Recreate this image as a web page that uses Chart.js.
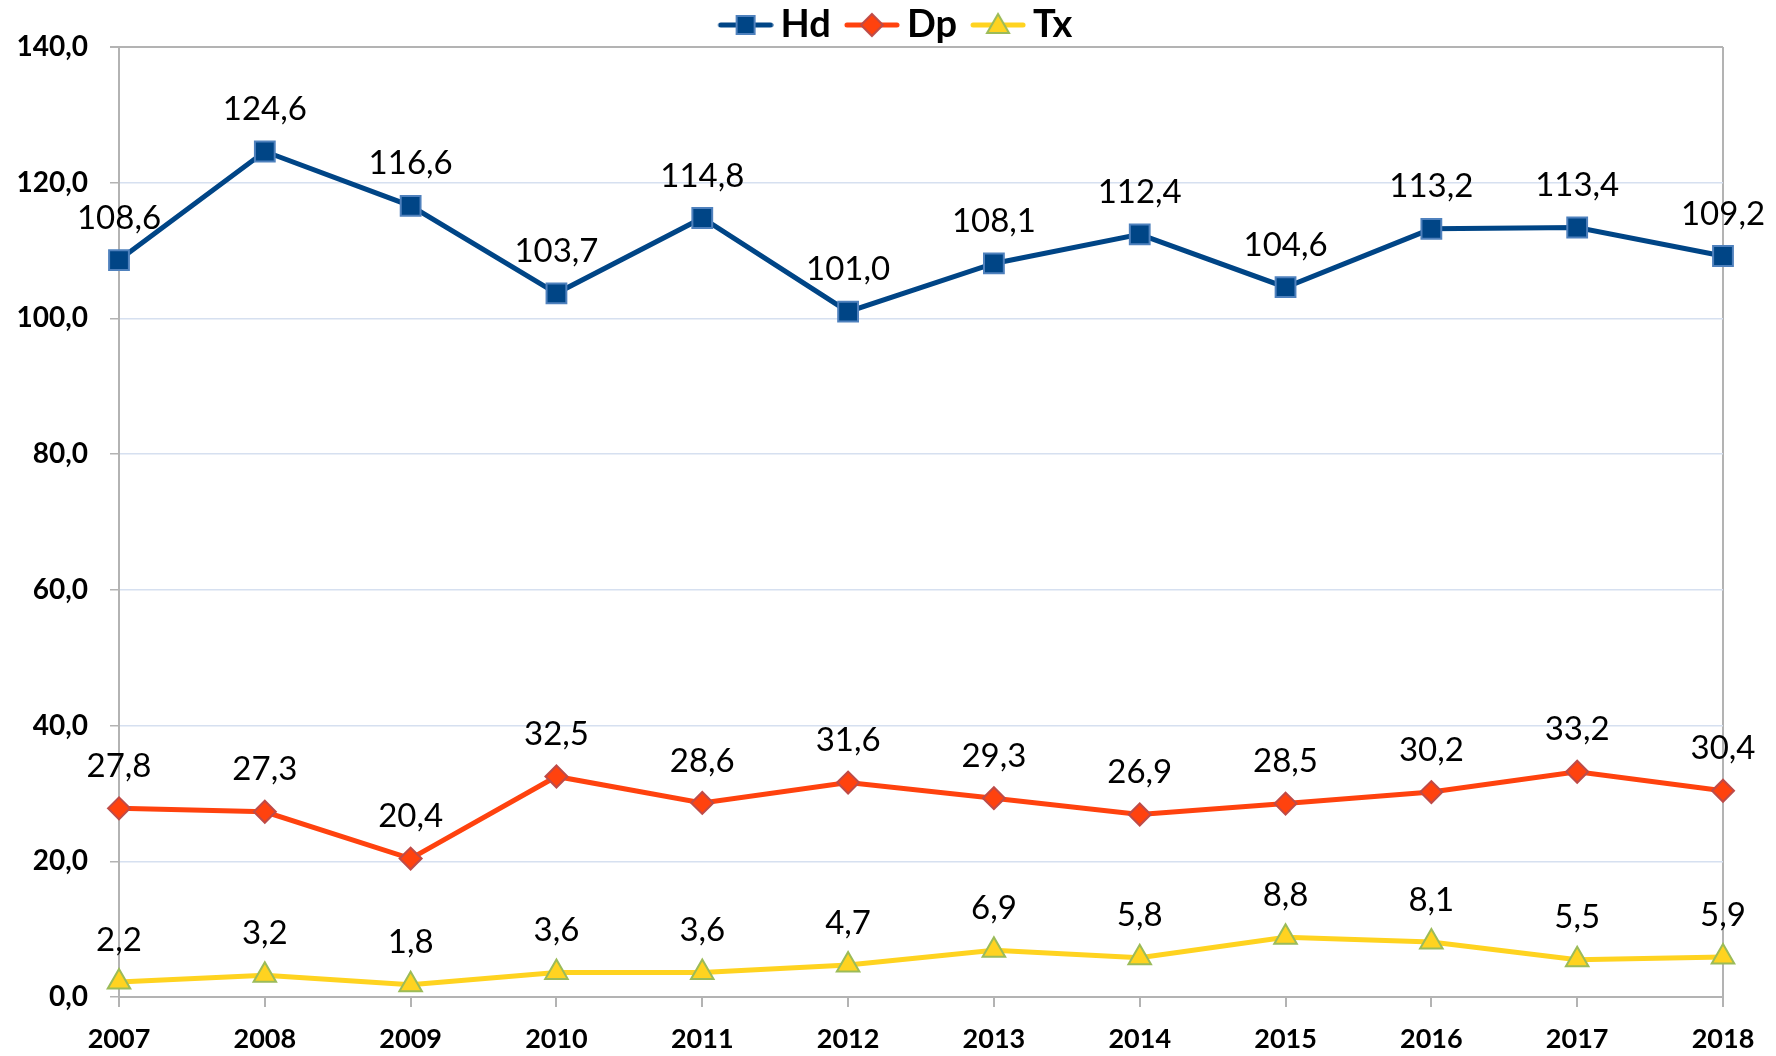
<!DOCTYPE html>
<html>
<head>
<meta charset="utf-8">
<title>Hd Dp Tx 2007-2018</title>
<script src="https://cdn.jsdelivr.net/npm/chart.js@4.4.1/dist/chart.umd.min.js"></script>
<style>
    html, body { margin: 0; padding: 0; background: #fff; }
    #wrap { width: 1776px; height: 1056px; }
</style>
</head>
<body>
<div id="wrap"><canvas id="chart" width="1776" height="1056"></canvas></div>
<script>
        const years = ['2007', '2008', '2009', '2010', '2011', '2012', '2013', '2014', '2015', '2016', '2017', '2018'];
        const hdValues = [108.6, 124.6, 116.6, 103.7, 114.8, 101.0, 108.1, 112.4, 104.6, 113.2, 113.4, 109.2];
        const dpValues = [27.8, 27.3, 20.4, 32.5, 28.6, 31.6, 29.3, 26.9, 28.5, 30.2, 33.2, 30.4];
        const txValues = [2.2, 3.2, 1.8, 3.6, 3.6, 4.7, 6.9, 5.8, 8.8, 8.1, 5.5, 5.9];
        const yMin = 0, yMax = 140, yStep = 20;

        const axisGray = '#b3b3b3';
        const gridBlue = '#d6e0f0';

        function fmt(v) {
            return v.toFixed(1).replace('.', ',');
        }

        // legend icon: line with the marker on it, transparent margin on the left
        function makeIcon(color, border, shape) {
            const c = document.createElement('canvas');
            c.width = 75;
            c.height = 30;
            const g = c.getContext('2d');
            g.strokeStyle = color;
            g.lineWidth = 5;
            g.lineCap = 'round';
            g.beginPath();
            g.moveTo(22, 15);
            g.lineTo(72, 15);
            g.stroke();

            const cx = 47, cy = 15;
            g.fillStyle = color;
            g.strokeStyle = border;
            g.lineWidth = 2;
            g.beginPath();
            if (shape === 'rect') {
                g.rect(cx - 9, cy - 9, 18, 18);
            } else if (shape === 'diamond') {
                g.moveTo(cx, cy - 11);
                g.lineTo(cx + 11, cy);
                g.lineTo(cx, cy + 11);
                g.lineTo(cx - 11, cy);
                g.closePath();
            } else {
                g.moveTo(cx, cy - 11);
                g.lineTo(cx + 11, cy + 8);
                g.lineTo(cx - 11, cy + 8);
                g.closePath();
            }
            g.fill();
            g.stroke();
            return c;
        }

        const icons = [
            makeIcon('#004586', '#4f81bd', 'rect'),
            makeIcon('#ff420e', '#be4b48', 'diamond'),
            makeIcon('#ffd320', '#9bbb59', 'triangle')
        ];

        const valueLabels = {
            id: 'valueLabels',
            afterDatasetsDraw(chart) {
                const ctx = chart.ctx;
                ctx.save();
                ctx.font = '33px Lato';
                ctx.fillStyle = '#000';
                ctx.textAlign = 'center';
                ctx.textBaseline = 'middle';
                chart.data.datasets.forEach((ds, i) => {
                    chart.getDatasetMeta(i).data.forEach((pt, j) => {
                        ctx.fillText(fmt(ds.data[j]), pt.x, pt.y - 42);
                    });
                });
                ctx.restore();
            }
        };

        // legend box is a bit taller than the original one, trim it,
        // and centre it on the canvas rather than on the padded area
        const legendTweak = {
            id: 'legendTweak',
            beforeLayout(chart) {
                const lg = chart.legend;
                if (lg && !lg._trimmed) {
                    const fit = lg.fit;
                    lg.fit = function () {
                        fit.call(this);
                        this.height -= 7;
                    };
                    lg._trimmed = true;
                }
            },
            afterLayout(chart) {
                const lg = chart.legend;
                if (lg) {
                    lg.left += 30;
                    lg.right += 30;
                }
            }
        };

        new Chart(document.getElementById('chart').getContext('2d'), {
            type: 'line',
            data: {
                labels: years,
                datasets: [{
                    label: 'Hd',
                    data: hdValues,
                    borderColor: '#004586',
                    backgroundColor: '#004586',
                    borderWidth: 5,
                    pointStyle: 'rect',
                    pointRadius: 14,
                    pointBackgroundColor: '#004586',
                    pointBorderColor: '#4f81bd',
                    pointBorderWidth: 2,
                    clip: false
                }, {
                    label: 'Dp',
                    data: dpValues,
                    borderColor: '#ff420e',
                    backgroundColor: '#ff420e',
                    borderWidth: 5,
                    pointStyle: 'rectRot',
                    pointRadius: 11,
                    pointBackgroundColor: '#ff420e',
                    pointBorderColor: '#be4b48',
                    pointBorderWidth: 2,
                    clip: false
                }, {
                    label: 'Tx',
                    data: txValues,
                    borderColor: '#ffd320',
                    backgroundColor: '#ffd320',
                    borderWidth: 5,
                    pointStyle: 'triangle',
                    pointRadius: 13,
                    pointBackgroundColor: '#ffd320',
                    pointBorderColor: '#9bbb59',
                    pointBorderWidth: 2,
                    clip: false
                }]
            },
            options: {
                responsive: false,
                animation: false,
                devicePixelRatio: 1,
                layout: { padding: { top: 0, right: 53, bottom: 0, left: 0 } },
                plugins: {
                    tooltip: { enabled: false },
                    legend: {
                        position: 'top',
                        labels: {
                            usePointStyle: true,
                            pointStyleWidth: 51,
                            padding: 6,
                            color: '#000',
                            font: { family: 'Lato', size: 38, weight: 'bold' },
                            generateLabels(chart) {
                                return chart.data.datasets.map((ds, i) => ({
                                    text: ds.label,
                                    pointStyle: icons[i],
                                    fillStyle: ds.borderColor,
                                    strokeStyle: ds.borderColor,
                                    lineWidth: 0,
                                    hidden: false,
                                    datasetIndex: i,
                                    fontColor: '#000'
                                }));
                            }
                        }
                    }
                },
                scales: {
                    x: {
                        offset: false,
                        afterFit(scale) { scale.height = 59; },
                        border: { color: axisGray, width: 2 },
                        grid: {
                            color: c => c.index === years.length - 1 ? axisGray : 'rgba(0,0,0,0)',
                            tickColor: axisGray,
                            lineWidth: 2,
                            tickLength: 10
                        },
                        ticks: {
                            color: '#000',
                            padding: 16,
                            maxRotation: 0,
                            autoSkip: false,
                            font: { family: 'Lato', size: 27, weight: 'bold' }
                        }
                    },
                    y: {
                        min: yMin,
                        max: yMax,
                        afterFit(scale) { scale.width = 119; },
                        border: { color: axisGray, width: 2 },
                        grid: {
                            color: c => c.tick.value === yMax ? axisGray : gridBlue,
                            lineWidth: c => c.tick.value === yMax ? 2 : 1.5,
                            tickColor: axisGray,
                            tickLength: 9
                        },
                        ticks: {
                            stepSize: yStep,
                            color: '#000',
                            padding: 22,
                            font: { family: 'Lato', size: 28, weight: 'bold' },
                            callback: v => fmt(v)
                        }
                    }
                }
            },
            plugins: [valueLabels, legendTweak]
        });
</script>
</body>
</html>
